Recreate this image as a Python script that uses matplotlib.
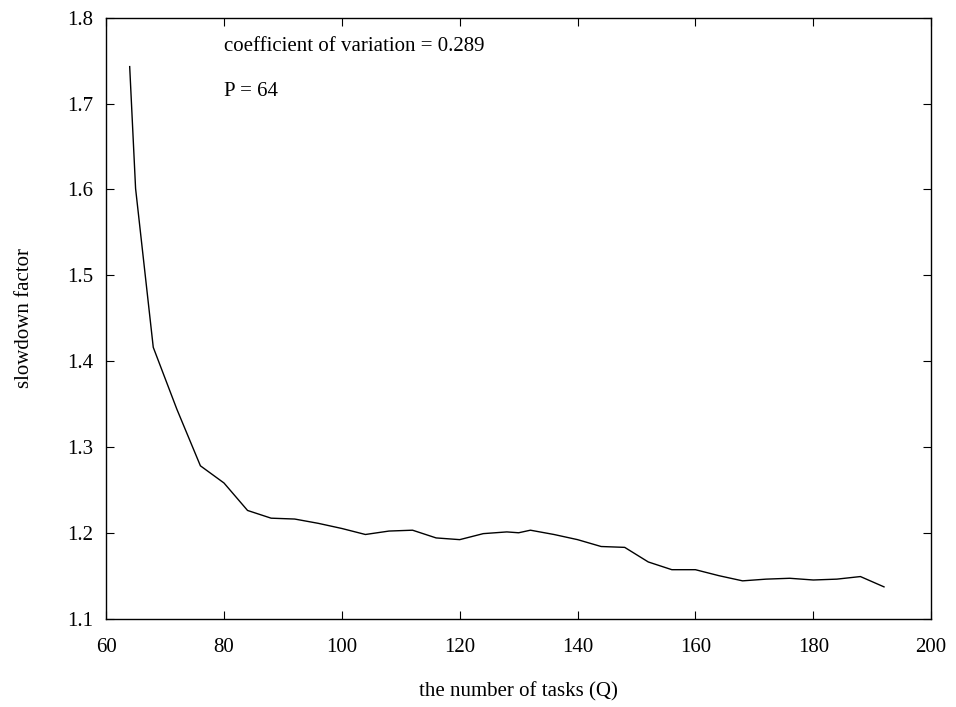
import matplotlib.pyplot as plt
import numpy as np

# nombre de taches Q et facteur de ralentissement
tasks = [64, 65, 68, 72, 76, 80, 84, 88, 92, 96, 100, 104, 108, 112, 116, 120,
         124, 128, 130, 132, 136, 140, 144, 148, 152, 156, 160, 164, 168, 172,
         176, 180, 184, 188, 192]
slowdown = [1.743, 1.601, 1.416, 1.344, 1.278, 1.258, 1.226, 1.217, 1.216, 1.211,
            1.205, 1.198, 1.202, 1.203, 1.194, 1.192, 1.199, 1.201, 1.200, 1.203,
            1.198, 1.192, 1.184, 1.183, 1.166, 1.157, 1.157, 1.150, 1.144, 1.146,
            1.147, 1.145, 1.146, 1.149, 1.137]

xticks = [60, 80, 100, 120, 140, 160, 180, 200]
yticks = [1.1, 1.2, 1.3, 1.4, 1.5, 1.6, 1.7, 1.8]

plt.rcParams['font.family'] = ['Liberation Serif', 'DejaVu Serif']

fig = plt.figure(figsize=(9.56, 7.07), dpi=100)
ax = fig.add_axes([0.111, 0.125, 0.863, 0.85])

ax.plot(tasks, slowdown, color='black', linewidth=1.0)

ax.set_xlim(60, 200)
ax.set_ylim(1.1, 1.8)
ax.set_xticks(xticks)
ax.set_yticks(yticks)
ax.set_xticklabels([str(t) for t in xticks])
ax.set_yticklabels([f'{t:.1f}' for t in yticks])
ax.tick_params(direction='in', length=6, width=0.8, top=True, right=True,
               labelsize=15)
ax.tick_params(axis='x', pad=14)
ax.tick_params(axis='y', pad=9)

for s in ax.spines.values():
    s.set_linewidth(1.0)

ax.text(80, 1.766, 'coefficient of variation = 0.289', fontsize=15, va='center')
ax.text(80, 1.714, 'P = 64', fontsize=15, va='center')

ax.set_xlabel('the number of tasks (Q)', fontsize=15, labelpad=18)
ax.set_ylabel('slowdown factor', fontsize=15, labelpad=24)

fig.savefig('out.png', dpi=100)
